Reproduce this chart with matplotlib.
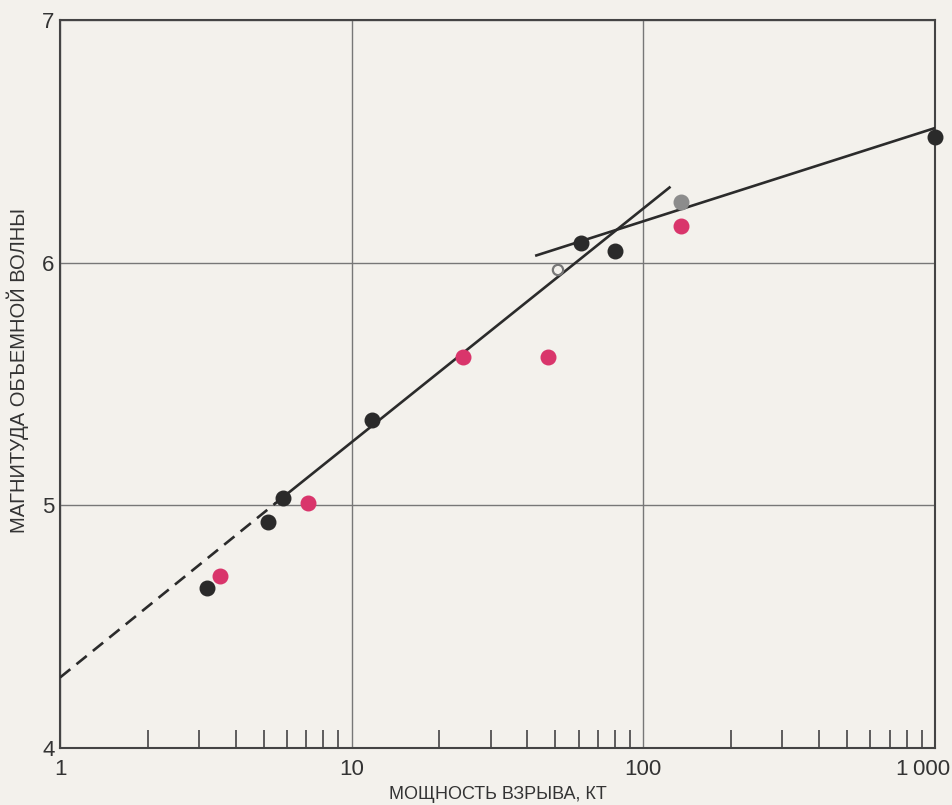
import matplotlib.pyplot as plt
import matplotlib.transforms as mtransforms
from matplotlib.ticker import FixedLocator, LogLocator, NullFormatter

plt.rcParams['font.family'] = ['Liberation Sans', 'DejaVu Sans']

# explosion yield (kt) and body-wave magnitude
black_x = [3.2, 5.15, 5.8, 11.7, 61, 80, 1000]
black_y = [4.66, 4.93, 5.03, 5.35, 6.08, 6.05, 6.52]
red_x = [3.55, 7.1, 24, 47, 135]
red_y = [4.71, 5.01, 5.61, 5.61, 6.15]
gray_x = [135]
gray_y = [6.25]
open_x = [51]
open_y = [5.97]

# fitted lines
dash_x = [1, 5.5]
dash_y = [4.29, 5.01]
fit1_x = [5.5, 123]
fit1_y = [5.01, 6.31]
fit2_x = [43, 1000]
fit2_y = [6.03, 6.555]

bg = '#f3f1ec'
fig = plt.figure(figsize=(9.53, 8.05), dpi=100, facecolor=bg)
ax = fig.add_axes([0.063, 0.071, 0.918, 0.904])
ax.set_facecolor(bg)

ax.plot(dash_x, dash_y, color='#2b2b2b', lw=1.9, ls=(0, (5, 3)), zorder=3)
ax.plot(fit1_x, fit1_y, color='#2b2b2b', lw=1.9, zorder=3)
ax.plot(fit2_x, fit2_y, color='#2b2b2b', lw=1.9, zorder=3)

ax.scatter(black_x, black_y, s=110, color='#2a2a2a', zorder=4, clip_on=False)
ax.scatter(red_x, red_y, s=110, color='#d9356b', zorder=4)
ax.scatter(gray_x, gray_y, s=110, color='#8c8c8c', zorder=4)
ax.scatter(open_x, open_y, s=55, facecolor='none', edgecolor='#777777', lw=1.6, zorder=4)

ax.set_xscale('log')
ax.set_xlim(1, 1000)
ax.set_ylim(4, 7)

ax.xaxis.set_major_locator(FixedLocator([1, 10, 100, 1000]))
ax.set_xticklabels(['1', '10', '100', '1\u2009000'])
ax.xaxis.set_minor_locator(LogLocator(base=10, subs=range(2, 10)))
ax.xaxis.set_minor_formatter(NullFormatter())
ax.set_yticks([4, 5, 6, 7])

ax.tick_params(axis='x', which='major', length=0, pad=8, labelsize=16, colors='#333333')
ax.tick_params(axis='x', which='minor', direction='in', length=13, width=1.2, color='#444444')
ax.tick_params(axis='y', length=0, pad=4, labelsize=16, colors='#333333')

# last label sits right-aligned against the figure edge, as in the print
last = ax.get_xticklabels()[-1]
last.set_horizontalalignment('right')
last.set_transform(last.get_transform() + mtransforms.ScaledTranslation(0.15, 0, fig.dpi_scale_trans))

ax.grid(True, which='major', color='#777777', lw=1.0)
for s in ax.spines.values():
    s.set_color('#444444')
    s.set_linewidth(1.5)

ax.set_xlabel('МОЩНОСТЬ ВЗРЫВА, КТ', fontsize=13, color='#333333', labelpad=4)
ax.set_ylabel('МАГНИТУДА ОБЪЕМНОЙ ВОЛНЫ', fontsize=14.5, color='#333333')
ax.yaxis.set_label_coords(-0.036, 0.518)

fig.savefig('out.png', dpi=100, facecolor=bg)
